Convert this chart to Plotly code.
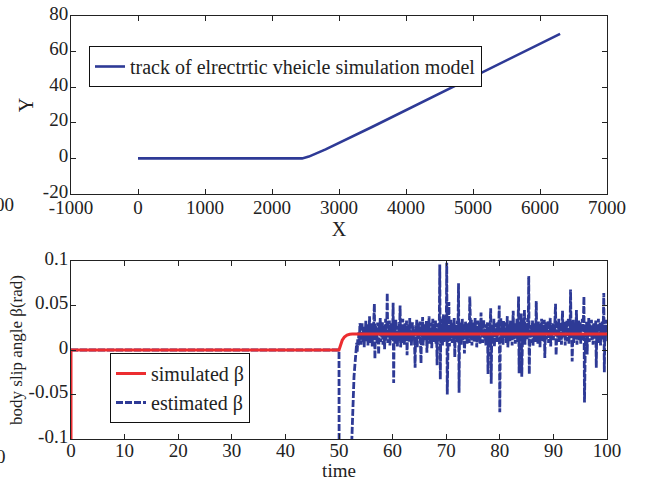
import numpy as np
import plotly.graph_objects as go

# ---------------- data ----------------
# top: vehicle track
track_x = [0, 500, 1000, 1500, 2000, 2450, 2550, 2650, 2800, 3500, 4500, 5500, 6300]
track_y = [0, 0, 0, 0, 0, 0, 1.0, 2.6, 5.1, 17.8, 36.3, 54.8, 70]
top_xticks = [-1000, 0, 1000, 2000, 3000, 4000, 5000, 6000, 7000]
top_xtext = ["-1000", "0", "1000", "2000", "3000", "4000", "5000", "6000", "7000"]
top_yticks = [-20, 0, 20, 40, 60, 80]
top_ytext = ["-20", "0", "20", "40", "60", "80"]

# bottom: simulated beta
sim_t = [0, 0, 50.0, 50.3, 50.6, 51.0, 51.5, 52.0, 52.5, 100]
sim_beta = [-0.1, 0, 0, 0.006, 0.011, 0.0145, 0.0168, 0.0177, 0.018, 0.018]

# estimated beta: transient part
est_t_a = [0, 50.0, 50.05, 52.3, 52.4, 52.5, 52.6, 52.7, 52.8, 52.9, 53.0, 53.1,
           53.2, 53.3, 53.4, 53.5, 53.6, 53.7, 53.8, 53.9]
est_beta_a = [0, 0, -0.25, -0.16, -0.1, -0.075, -0.055, -0.04, -0.03, -0.022, -0.012,
              -0.004, 0.003, 0.008, -0.002, 0.012, 0.005, 0.020, 0.008, 0.030]
# estimated beta: noisy part, samples every 0.1 s from 54.0 to 100.0 (values in 1e-3 rad)
est_beta_b_milli = [
    28, 6, 22, 31, 9, 17, 26, 3, 24, 14,
    33, 10, 20, 27, 5, 29, 15, 38, 8, 21,
    12, 30, 4, 25, 18, 34, 52, -10, 27, 11,
    23, 7, 31, 16, -5, 29, 20, 36, 9, 25,
    14, 32, 6, 22, 27, 1, 19, 35, 12, 24,
    64, 8, 28, 15, 33, 5, 21, 30, 11, 26,
    17, 53, -37, 29, 7, 24, 34, 13, 20, 4,
    27, 10, 31, 18, 50, 3, 22, 28, 8, 35,
    15, 25, 6, 30, 19, 12, 33, -6, 23, 17,
    29, 9, 36, 14, 21, 5, 26, 31, 11, 20,
    24, 7, -20, 28, 16, 34, 3, 22, 30, 13,
    19, 32, 8, -15, 26, 14, 37, 5, 23, 29,
    10, 27, 18, 33, -3, 21, 30, 12, 38, 7,
    25, 16, 31, 2, 22, 35, 9, 28, 14, 20,
    33, 6, 24, -17, 30, 11, 27, 19, 96, -33,
    26, 13, 35, 5, 21, 40, 8, 29, 17, 32,
    10, 98, -50, 23, 31, 54, 4, 27, 15, 34,
    19, 8, 30, 22, 12, 36, -8, 25, 17, 28,
    9, 33, 20, 75, -48, 27, 14, 31, 6, 24,
    35, 11, 22, 29, -4, 18, 32, 13, 26, 7,
    21, 30, 16, 8, 60, 24, 12, 34, 5, 27,
    18, 31, 9, 23, 36, 14, 27, 3, 20, 33,
    11, 25, 30, 6, 19, 42, 15, 28, 8, 22,
    34, 13, 24, 18, 5, 29, 10, 31, -27, 21,
    26, 7, 33, 47, -38, 20, 12, 28, 16, 35,
    4, 23, 30, 14, 25, 9, 32, 18, 27, 50,
    -70, 22, 36, 11, 28, 15, 6, 33, 20, 24,
    13, 31, 8, 26, 38, 3, 22, 29, 17, 10,
    34, 19, 27, 5, 24, 44, 12, 30, 21, 7,
    28, 16, 35, 9, 23, 60, -26, 31, 14, 26,
    41, -30, 19, 33, 10, 27, 45, 6, 24, 17,
    30, 12, 36, 21, 83, -27, 15, 28, 8, 25,
    19, 33, 4, 26, 13, 30, 22, 9, 55, 16,
    27, 7, 32, 18, 24, 3, 29, 14, 35, 21,
    10, 28, 17, 34, -9, 23, 31, 12, 26, 19,
    33, 8, 25, 20, 36, 4, 28, 15, 22, 30,
    11, 27, 18, 32, 52, -6, 24, 29, 13, 21,
    35, 9, 26, 16, 31, 6, 23, 44, 14, 28,
    18, 32, 5, 25, 21, 33, 10, 27, 36, 7,
    24, 15, 68, 20, 29, -13, 19, 34, 8, 26,
    12, 30, 22, 45, 6, 27, 17, 33, 11, 25,
    31, 7, 23, 18, 35, 10, 28, 60, -59, 20,
    26, 14, 32, -5, 24, 19, 36, 9, 29, 16,
    22, 34, 11, 27, 6, 30, 18, 25, 13, 33,
    -20, 28, 20, 8, 35, 15, 24, 31, 5, 27,
    17, 32, 12, 26, 64, -25, 21, 9, 34, 19,
    24,
]
est_t_b_start, est_t_b_step = 54.0, 0.1

bot_xticks = [0, 10, 20, 30, 40, 50, 60, 70, 80, 90, 100]
bot_xtext = [str(v) for v in bot_xticks]
bot_yticks = [-0.1, -0.05, 0, 0.05, 0.1]
bot_ytext = ["-0.1", "-0.05", "0", "0.05", "0.1"]

# ---------------- build ----------------
est_t_b = [round(est_t_b_start + i * est_t_b_step, 2) for i in range(len(est_beta_b_milli))]
est_t = est_t_a + est_t_b
est_beta = est_beta_a + [v / 1000 for v in est_beta_b_milli]

W, H = 648, 481
FONT = "Liberation Serif, Times New Roman, DejaVu Serif, serif"
TXT = "#222222"
BLUE = "#2E3A96"
RED = "#EC2D30"

fig = go.Figure()
fig.add_trace(go.Scatter(x=track_x, y=track_y, mode="lines",
                         line=dict(color=BLUE, width=2.6),
                         name="track of elrectrtic vheicle simulation model",
                         xaxis="x", yaxis="y", legend="legend"))
fig.add_trace(go.Scatter(x=est_t, y=est_beta, mode="lines",
                         line=dict(color=BLUE, width=2.8, dash="7px,2px"),
                         name="estimated β", xaxis="x2", yaxis="y2",
                         legend="legend2", legendrank=2))
fig.add_trace(go.Scatter(x=sim_t, y=sim_beta, mode="lines",
                         line=dict(color=RED, width=3),
                         name="simulated β", xaxis="x2", yaxis="y2",
                         legend="legend2", legendrank=1))

axis_common = dict(showline=True, linecolor="#222222", linewidth=1, mirror="ticks",
                   ticks="inside", ticklen=5, tickcolor="#222222", showgrid=False,
                   zeroline=False, automargin=False,
                   tickfont=dict(family=FONT, size=19, color=TXT))

x0, x1 = 71 / W, 607 / W
fig.update_layout(
    width=W, height=H, margin=dict(l=0, r=0, t=0, b=0, autoexpand=False),
    paper_bgcolor="white", plot_bgcolor="white",
    font=dict(family=FONT, size=18, color=TXT),
    xaxis=dict(domain=[x0, x1], anchor="y", range=[-1000, 7000],
               tickvals=top_xticks, ticktext=top_xtext, ticklabelstandoff=-4,
               title=dict(text="X", standoff=0, font=dict(family=FONT, size=20, color=TXT)),
               **axis_common),
    yaxis=dict(domain=[1 - 194 / H, 1 - 16 / H], anchor="x", range=[-20, 80],
               tickvals=top_yticks, ticktext=top_ytext, ticklabelstandoff=-2,
               ticklabelshift=-3,
               title=dict(text="Y", standoff=3, font=dict(family=FONT, size=20, color=TXT)),
               **axis_common),
    xaxis2=dict(domain=[x0, x1], anchor="y2", range=[0, 100],
                tickvals=bot_xticks, ticktext=bot_xtext, ticklabelstandoff=-6,
                title=dict(text="time", standoff=2, font=dict(family=FONT, size=19, color=TXT)),
                **axis_common),
    yaxis2=dict(domain=[1 - 439 / H, 1 - 261 / H], anchor="x2", range=[-0.1, 0.1],
                tickvals=bot_yticks, ticktext=bot_ytext, ticklabelstandoff=-2,
                ticklabelshift=-3,
                title=dict(text="body slip angle β(rad)", standoff=1,
                           font=dict(family=FONT, size=17, color=TXT)),
                **axis_common),
    legend=dict(x=89 / W, y=1 - 46 / H, xanchor="left", yanchor="top",
                bordercolor="#111111", borderwidth=1, bgcolor="white",
                font=dict(family=FONT, size=20, color=TXT), itemwidth=30,
                tracegroupgap=0),
    legend2=dict(x=110 / W, y=1 - 353 / H, xanchor="left", yanchor="top",
                 bordercolor="#111111", borderwidth=1, bgcolor="white",
                 font=dict(family=FONT, size=20, color=TXT), itemwidth=30,
                 traceorder="normal"),
    showlegend=True,
)

# clipped labels at the left edge of the picture
fig.add_annotation(text="00", x=16 / W, y=1 - 205 / H, xref="paper", yref="paper",
                   xanchor="right", yanchor="middle", showarrow=False,
                   font=dict(family=FONT, size=19, color=TXT))
fig.add_annotation(text="0", x=8 / W, y=1 - 456 / H, xref="paper", yref="paper",
                   xanchor="right", yanchor="middle", showarrow=False,
                   font=dict(family=FONT, size=19, color=TXT))

fig.write_html("out.html", config={"displayModeBar": False},
               post_script="document.body.style.margin='0';document.body.style.overflow='hidden';")
